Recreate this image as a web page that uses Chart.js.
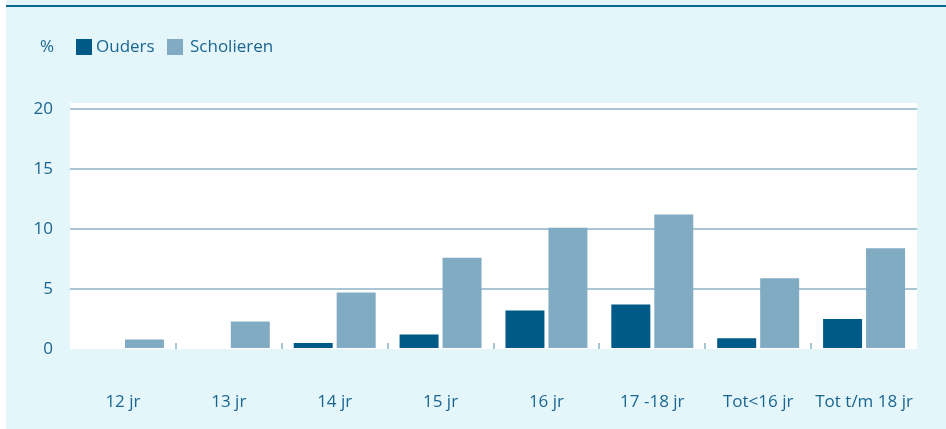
<title>Ouders en scholieren</title>
<meta charset="UTF-8">
<style>
html, body { margin:0; padding:0; background:#fff; }
#wrap { width:946px; height:429px; }
</style>
<body>
<div id="wrap"><canvas id="chart1" width="946" height="429"></canvas></div>

<script src="https://cdn.jsdelivr.net/npm/chart.js@4/dist/chart.umd.min.js"></script>
<script>
// data
var categories = ["12 jr", "13 jr", "14 jr", "15 jr", "16 jr", "17 -18 jr", "Tot<16 jr", "Tot t/m 18 jr"];
var ouders = [0, 0, 0.5, 1.2, 3.2, 3.7, 0.9, 2.5];
var scholieren = [0.8, 2.3, 4.7, 7.6, 10.1, 11.2, 5.9, 8.4];
var yTicks = [0, 5, 10, 15, 20];

var textCol = "#1a6690";
var gridCol = "#aac6d4";
var font = "'Open Sans', 'Noto Sans', sans-serif";

// background, top rule, legend and the little category ticks
var deco = {
  id: "deco",
  beforeDraw: function(chart) {
    var c = chart.ctx, a = chart.chartArea;
    c.save();
    c.fillStyle = "#e4f6fa";
    c.fillRect(6, 0, chart.width - 6, chart.height);
    c.fillStyle = "#ffffff";
    c.fillRect(a.left, a.top, a.right - a.left, a.bottom - a.top);
    c.fillStyle = "#0b6691";
    c.fillRect(6, 5, chart.width - 6, 2);
    c.restore();
  },
  afterDraw: function(chart) {
    var c = chart.ctx, a = chart.chartArea;
    var x = chart.scales.x;
    c.save();
    c.fillStyle = gridCol;
    for (var i = 1; i < categories.length; i++) {
      var px = (x.getPixelForValue(i - 1) + x.getPixelForValue(i)) / 2;
      c.fillRect(Math.round(px) - 1, a.bottom - 6, 2, 6);
    }
    // legend
    c.font = "17px " + font;
    c.textBaseline = "middle";
    c.fillStyle = textCol;
    c.textAlign = "center";
    c.fillText("%", 47, 47);
    c.textAlign = "left";
    var pos = [[76, 96], [167, 190]];
    chart.data.datasets.forEach(function(ds, k) {
      c.fillStyle = ds.backgroundColor;
      c.fillRect(pos[k][0], 39, 16, 16);
      c.fillStyle = textCol;
      c.fillText(ds.label, pos[k][1], 47);
    });
    c.restore();
  }
};

new Chart("chart1", {
  type: "bar",
  data: {
    labels: categories,
    datasets: [{
      label: "Ouders",
      data: ouders,
      backgroundColor: "#005a87"
    }, {
      label: "Scholieren",
      data: scholieren,
      backgroundColor: "#80abc2"
    }]
  },
  options: {
    responsive: false,
    animation: false,
    events: [],
    categoryPercentage: 0.812,
    barPercentage: 0.907,
    layout: { padding: { left: 0, right: 29, top: 103, bottom: 0 } },
    plugins: {
      legend: { display: false },
      tooltip: { enabled: false }
    },
    scales: {
      x: {
        grid: { display: false, drawTicks: false },
        border: { display: false },
        ticks: { color: textCol, font: { family: font, size: 17 }, padding: 43, maxRotation: 0 },
        afterFit: function(s) { s.height = 80; s.paddingLeft = 0; s.paddingRight = 0; }
      },
      y: {
        min: 0,
        max: 20.5,
        afterBuildTicks: function(s) { s.ticks = yTicks.map(function(v) { return { value: v }; }); },
        grid: {
          drawTicks: false,
          lineWidth: 2,
          color: function(ctx) { return ctx.tick && ctx.tick.value === 0 ? "rgba(0,0,0,0)" : gridCol; }
        },
        border: { display: false },
        ticks: { color: textCol, font: { family: font, size: 17 }, padding: 17 },
        afterFit: function(s) { s.width = 70; }
      }
    }
  },
  plugins: [deco]
});
</script>
</body>
